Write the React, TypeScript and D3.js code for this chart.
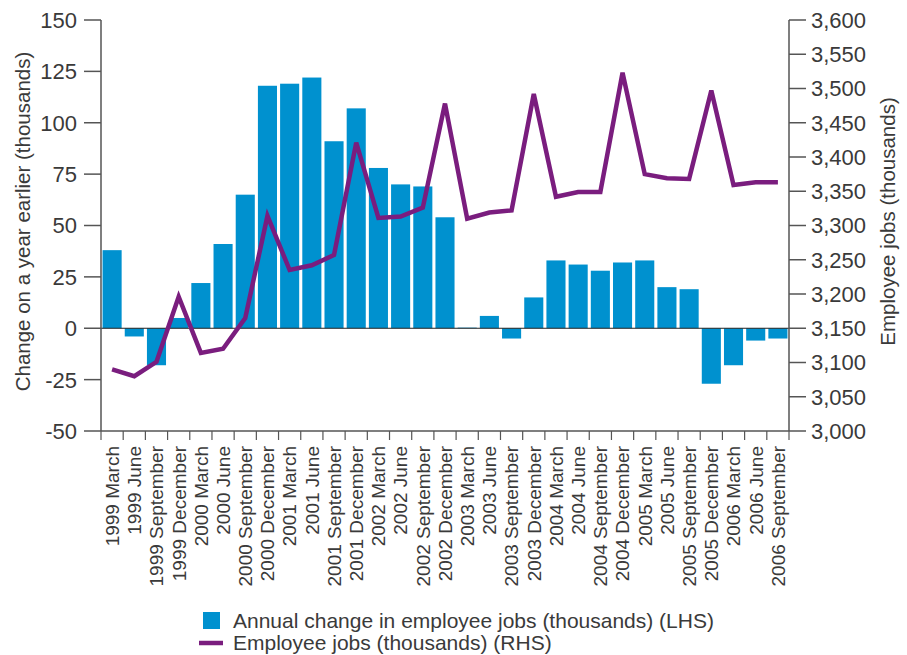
import React from "react";
import * as d3 from "d3";

const categories = [
  "1999 March", "1999 June", "1999 September", "1999 December",
  "2000 March", "2000 June", "2000 September", "2000 December",
  "2001 March", "2001 June", "2001 September", "2001 December",
  "2002 March", "2002 June", "2002 September", "2002 December",
  "2003 March", "2003 June", "2003 September", "2003 December",
  "2004 March", "2004 June", "2004 September", "2004 December",
  "2005 March", "2005 June", "2005 September", "2005 December",
  "2006 March", "2006 June", "2006 September",
];

const annualChange = [
  38, -4, -18, 5, 22, 41, 65, 118, 119, 122, 91, 107, 78, 70, 69, 54,
  0.3, 6, -5, 15, 33, 31, 28, 32, 33, 20, 19, -27, -18, -6, -5,
];

const employeeJobs = [
  3090, 3080, 3101, 3196, 3114, 3120, 3165, 3314, 3235, 3242, 3257, 3421,
  3311, 3313, 3326, 3478, 3310, 3319, 3322, 3492, 3342, 3349, 3349, 3523,
  3375, 3369, 3368, 3497, 3359, 3363, 3363,
];

const leftTicks = [-50, -25, 0, 25, 50, 75, 100, 125, 150];
const rightTicks = [3000, 3050, 3100, 3150, 3200, 3250, 3300, 3350, 3400, 3450, 3500, 3550, 3600];

const BAR = "#0091cf";
const LINE = "#7a1d7e";
const AXIS = "#555555";
const TEXT = "#3a3a3a";
const FONT = "'Liberation Sans', Arial, sans-serif";

export default function App() {
  const W = 907, H = 655;
  const x0 = 101, x1 = 789, yTop = 20, yBot = 431;

  const x = d3.scaleBand<string>().domain(categories).range([x0, x1]).paddingInner(0.14).paddingOuter(0.07);
  const yL = d3.scaleLinear().domain([-50, 150]).range([yBot, yTop]);
  const yR = d3.scaleLinear().domain([3000, 3600]).range([yBot, yTop]);

  const line = d3.line<number>()
    .x((_, i) => (x(categories[i]) as number) + x.bandwidth() / 2)
    .y((d) => yR(d));

  const boundaries = d3.range(categories.length + 1).map((i) => x0 + ((x1 - x0) * i) / categories.length);

  return (
    <svg width={W} height={H} style={{ display: "block", position: "absolute", left: 0, top: 0 }} fontFamily={FONT}>
      <rect x={0} y={0} width={W} height={H} fill="#fff" />
      {annualChange.map((v, i) => (
        <rect key={i}
          x={x(categories[i])}
          width={x.bandwidth()}
          y={Math.min(yL(v), yL(0))}
          height={Math.abs(yL(v) - yL(0))}
          fill={BAR} />
      ))}
      <line x1={x0} x2={x1} y1={yL(0)} y2={yL(0)} stroke="#222" strokeWidth={1} />
      <path d={line(employeeJobs) || ""} fill="none" stroke={LINE} strokeWidth={4.5} strokeLinejoin="miter" />

      <line x1={x0} x2={x0} y1={yTop} y2={yBot} stroke={AXIS} strokeWidth={1.5} />
      {leftTicks.map((t) => (
        <g key={t}>
          <line x1={x0 - 17} x2={x0} y1={yL(t)} y2={yL(t)} stroke={AXIS} strokeWidth={1.5} />
          <text x={x0 - 24} y={yL(t)} dy="0.36em" textAnchor="end" fontSize={22} fill={TEXT}>{t}</text>
        </g>
      ))}
      <line x1={x1} x2={x1} y1={yTop} y2={yBot} stroke={AXIS} strokeWidth={1.5} />
      {rightTicks.map((t) => (
        <g key={t}>
          <line x1={x1} x2={x1 + 17} y1={yR(t)} y2={yR(t)} stroke={AXIS} strokeWidth={1.5} />
          <text x={x1 + 22} y={yR(t)} dy="0.36em" textAnchor="start" fontSize={22} fill={TEXT}>{d3.format(",")(t)}</text>
        </g>
      ))}
      <line x1={x0} x2={x1} y1={yBot} y2={yBot} stroke={AXIS} strokeWidth={1.5} />
      {boundaries.map((b, i) => (
        <line key={i} x1={b} x2={b} y1={yBot} y2={yBot + 9} stroke={AXIS} strokeWidth={1.2} />
      ))}
      {categories.map((c) => {
        const cx = (x(c) as number) + x.bandwidth() / 2;
        return (
          <text key={c} transform={`translate(${cx},${yBot + 15}) rotate(-90)`} dy="0.36em" textAnchor="end" fontSize={19} fill={TEXT}>{c}</text>
        );
      })}

      <text transform={`translate(30,${(yTop + yBot) / 2 - 4}) rotate(-90)`} textAnchor="middle" fontSize={20.5} fill={TEXT}>Change on a year earlier (thousands)</text>
      <text transform={`translate(895,${(87 + 356) / 2}) rotate(-90)`} textAnchor="middle" fontSize={20.5} fill={TEXT}>Employee jobs (thousands)</text>

      <rect x={203} y={612} width={17} height={17} fill={BAR} />
      <text x={233} y={628} fontSize={21} fill={TEXT}>Annual change in employee jobs (thousands) (LHS)</text>
      <line x1={199} x2={223} y1={643} y2={643} stroke={LINE} strokeWidth={4.5} />
      <text x={233} y={650} fontSize={21} fill={TEXT}>Employee jobs (thousands) (RHS)</text>
    </svg>
  );
}
